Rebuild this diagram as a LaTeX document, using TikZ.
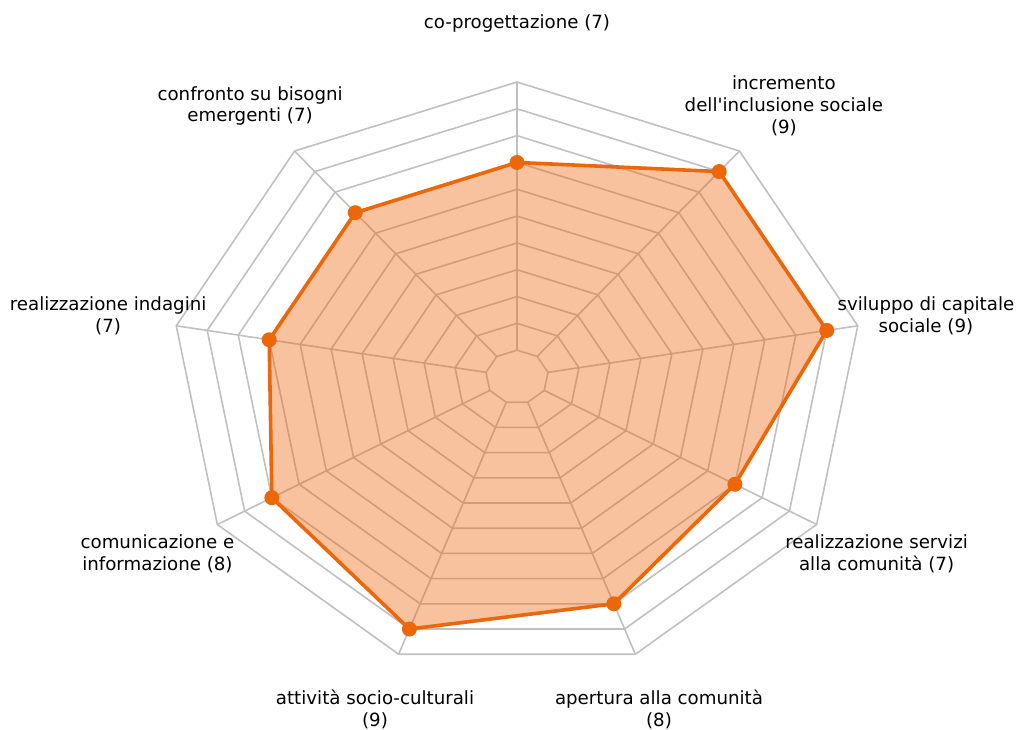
\documentclass[tikz,border=0pt]{standalone}
\usepackage{fontspec}
\setmainfont{DejaVu Sans}[Ligatures=TeXOff]
\definecolor{gridgray}{RGB}{192,192,192}
\definecolor{dataorange}{RGB}{236,102,10}
\tikzset{
  gridline/.style={draw=gridgray, line width=1.6pt, line join=round},
  dataline/.style={draw=dataorange, line width=3.6pt, line join=round},
  datafill/.style={fill=dataorange, fill opacity=0.4},
  datadot/.style={fill=dataorange},
  lbl/.style={align=center, inner sep=0pt, font=\fontsize{18.2}{21.7}\selectfont, text=black}
}
\begin{document}
\begin{tikzpicture}[x=1pt,y=-1pt]
\useasboundingbox (0,0) rectangle (1020,729);
\def\cx{517}\def\cy{377}\def\ax{346}\def\by{295}
% rings
\foreach \v in {0,...,10}{
  \pgfmathsetmacro\r{(\v+1)/11}
  \draw[gridline] ({\cx},{\cy-\by*\r})
    \foreach \k in {1,...,8}{ -- ({\cx+\ax*\r*sin(40*\k)},{\cy-\by*\r*cos(40*\k)}) } -- cycle;
}
% spokes
\foreach \k in {0,...,8}{
  \draw[gridline] ({\cx+\ax/11*sin(40*\k)},{\cy-\by/11*cos(40*\k)}) -- ({\cx+\ax*sin(40*\k)},{\cy-\by*cos(40*\k)});
}
% data
\foreach \v [count=\k from 0] in {7,9,9,7,8,9,8,7,7}{
  \pgfmathsetmacro\r{(\v+1)/11}
  \coordinate (d\k) at ({\cx+\ax*\r*sin(40*\k)},{\cy-\by*\r*cos(40*\k)});
}
\fill[datafill] (d0) -- (d1) -- (d2) -- (d3) -- (d4) -- (d5) -- (d6) -- (d7) -- (d8) -- cycle;
\draw[dataline] (d0) -- (d1) -- (d2) -- (d3) -- (d4) -- (d5) -- (d6) -- (d7) -- (d8) -- cycle;
\foreach \k in {0,...,8}{ \fill[datadot] (d\k) circle (7.5); }
% labels
\foreach \t [count=\k from 0] in {
  {co-progettazione (7)},
  {incremento\\dell'inclusione sociale\\(9)},
  {sviluppo di capitale\\sociale (9)},
  {realizzazione servizi\\alla comunità (7)},
  {apertura alla comunità\\(8)},
  {attività socio-culturali\\(9)},
  {comunicazione e\\informazione (8)},
  {realizzazione indagini\\(7)},
  {confronto su bisogni\\emergenti (7)}}{
  \node[lbl] (l\k) at ({\cx+1.2*\ax*sin(40*\k)},{\cy-1.2*\by*cos(40*\k)}) {\t};
}
\end{tikzpicture}
\end{document}
